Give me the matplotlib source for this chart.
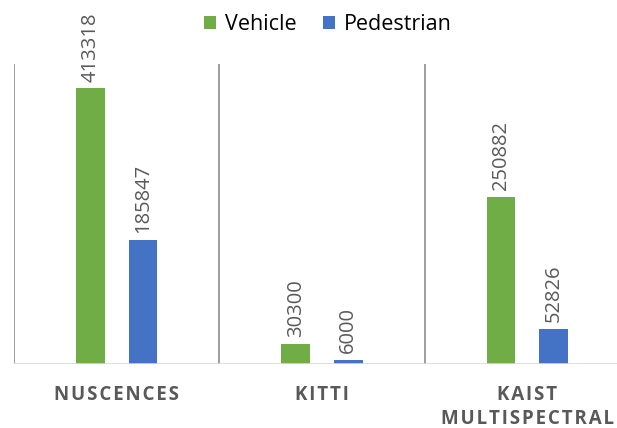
import numpy as np
import matplotlib.pyplot as plt

# data
categories = ['NUSCENCES', 'KITTI', 'KAIST\nMULTISPECTRAL']
vehicle = [413318, 30300, 250882]
pedestrian = [185847, 6000, 52826]

green = '#70AD47'
blue = '#4472C4'
label_gray = '#595959'

plt.rcParams['font.family'] = ['Open Sans', 'DejaVu Sans']

fig = plt.figure(figsize=(6.17, 4.28), dpi=100)
ax = fig.add_axes([14 / 617, (428 - 364) / 428, (630 - 14) / 617, 300 / 428])

x = np.arange(len(categories))
w = 0.139
off = 0.128
b1 = ax.bar(x - off, vehicle, w, color=green, label='Vehicle')
b2 = ax.bar(x + off, pedestrian, w, color=blue, label='Pedestrian')

for bars, vals in [(b1, vehicle), (b2, pedestrian)]:
    for rect, v in zip(bars, vals):
        ax.annotate(str(v), (rect.get_x() + rect.get_width() / 2, v),
                    xytext=(0, 5), textcoords='offset points',
                    rotation=90, ha='center', va='bottom',
                    fontsize=14.5, color=label_gray)

ax.set_xlim(-0.5, 2.5)
ax.set_ylim(0, 450000)

# category separators
for xv in [-0.5, 0.5, 1.5, 2.5]:
    ax.axvline(xv, color='#8c8c8c', lw=1.2, zorder=0)
ax.axhline(0, color='#d9d9d9', lw=1.2, zorder=1)

for s in ax.spines.values():
    s.set_visible(False)
ax.set_yticks([])
ax.set_xticks(x)
# letter spacing with hair spaces
hair = '\u200a'
spaced = ['\n'.join(hair.join(part) for part in c.split('\n')) for c in categories]
ax.set_xticklabels(spaced, fontsize=13.5, fontweight='bold', color=label_gray,
                   linespacing=1.3)
ax.tick_params(axis='x', length=0, pad=15)

fig.legend(handles=[b1, b2], loc='center', bbox_to_anchor=(328 / 617, 1 - 25 / 428),
           ncol=2, frameon=False, fontsize=15.5, handlelength=0.55,
           handleheight=0.55, handletextpad=0.45, columnspacing=1.2)

fig.savefig('out.png', dpi=100)
